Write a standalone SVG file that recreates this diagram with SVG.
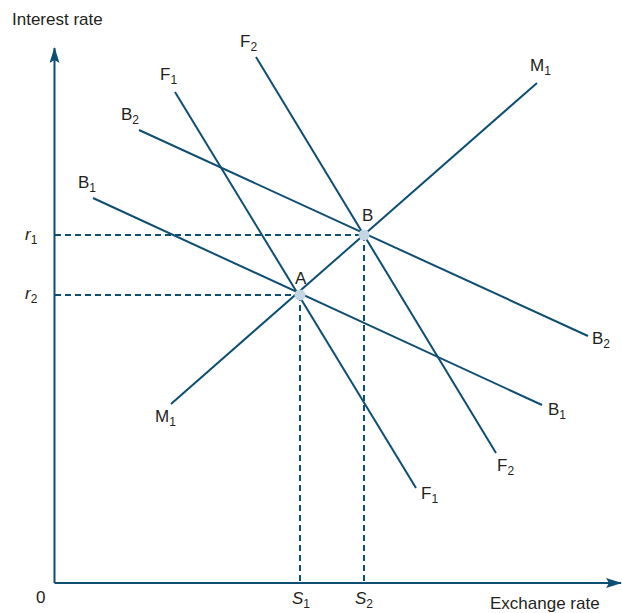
<svg xmlns="http://www.w3.org/2000/svg" width="622" height="613" viewBox="0 0 622 613">
<style>
.ln{stroke:#0e4e72;stroke-width:2;fill:none;stroke-linecap:butt}
.ax{stroke:#0e4e72;stroke-width:2;fill:none}
.ds{stroke:#0e4e72;stroke-width:2;fill:none;stroke-dasharray:6 4}
.t{font-family:"Liberation Sans",Arial,sans-serif;font-size:17px;fill:#231f20}
.i{font-style:italic}
.s{font-size:12px}
.pt{fill:#c4d5e4}
</style>
<defs>
<marker id="ah" viewBox="0 0 16 10" refX="15" refY="5" markerWidth="16" markerHeight="10" markerUnits="userSpaceOnUse" orient="auto">
<path d="M0,0 L16,5 L0,10 L3,5 Z" fill="#0e4e72"/>
</marker>
</defs>
<rect width="622" height="613" fill="#ffffff"/>
<g id="axes">
<line class="ax" x1="54.5" y1="583" x2="54.5" y2="48" marker-end="url(#ah)"/>
<line class="ax" x1="54.5" y1="583" x2="621" y2="583" marker-end="url(#ah)"/>
<text class="t" x="12" y="25">Interest rate</text>
<text class="t" x="490" y="609">Exchange rate</text>
<text class="t" x="36" y="603">0</text>
</g>
<g id="connectors">
<line class="ds" x1="55" y1="235" x2="364" y2="235"/>
<line class="ds" x1="55" y1="295" x2="300" y2="295"/>
<line class="ds" x1="300" y1="295" x2="300" y2="583"/>
<line class="ds" x1="364" y1="235" x2="364" y2="583"/>
</g>
<g id="B1">
<line class="ln" x1="93" y1="198" x2="542" y2="405"/>
<text class="t" x="78" y="188">B<tspan class="s" dy="4">1</tspan></text>
<text class="t" x="548" y="415">B<tspan class="s" dy="4">1</tspan></text>
</g>
<g id="B2">
<line class="ln" x1="139" y1="130" x2="588" y2="336"/>
<text class="t" x="121" y="120">B<tspan class="s" dy="4">2</tspan></text>
<text class="t" x="592" y="344">B<tspan class="s" dy="4">2</tspan></text>
</g>
<g id="F1">
<line class="ln" x1="175" y1="92" x2="416" y2="488"/>
<text class="t" x="160" y="80">F<tspan class="s" dy="4">1</tspan></text>
<text class="t" x="421" y="499">F<tspan class="s" dy="4">1</tspan></text>
</g>
<g id="F2">
<line class="ln" x1="256" y1="57" x2="496" y2="453"/>
<text class="t" x="240" y="47">F<tspan class="s" dy="4">2</tspan></text>
<text class="t" x="497" y="471">F<tspan class="s" dy="4">2</tspan></text>
</g>
<g id="M1">
<line class="ln" x1="171" y1="404" x2="537" y2="83"/>
<text class="t" x="155" y="422">M<tspan class="s" dy="4">1</tspan></text>
<text class="t" x="530" y="71">M<tspan class="s" dy="4">1</tspan></text>
</g>
<g id="pointA">
<circle class="pt" cx="300" cy="295" r="5.5"/>
<text class="t" x="295" y="284">A</text>
</g>
<g id="pointB">
<circle class="pt" cx="364" cy="235" r="5.5"/>
<text class="t" x="362" y="221">B</text>
</g>
<g id="r1">
<text class="t i" x="25" y="240">r<tspan class="s" font-style="normal" dy="4">1</tspan></text>
</g>
<g id="r2">
<text class="t i" x="25" y="299">r<tspan class="s" font-style="normal" dy="4">2</tspan></text>
</g>
<g id="S1">
<text class="t i" x="292" y="604">S<tspan class="s" font-style="normal" dy="4">1</tspan></text>
</g>
<g id="S2">
<text class="t i" x="355" y="604">S<tspan class="s" font-style="normal" dy="4">2</tspan></text>
</g>
</svg>
